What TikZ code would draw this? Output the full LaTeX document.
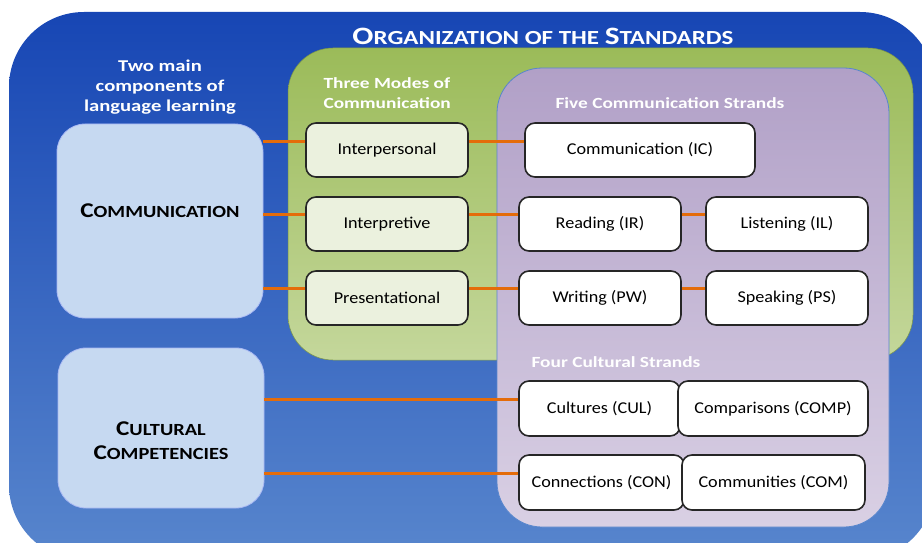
\documentclass[tikz,border=0pt]{standalone}
\usepackage{fontspec}
\setmainfont{Carlito}[FakeStretch=1.1]
\newfontfamily\headfont{Carlito}[FakeStretch=1.25]
\newfontfamily\partfont{Carlito}[FakeStretch=1.2]
\usetikzlibrary{positioning}

\definecolor{deepblue}{HTML}{1746B4}
\definecolor{paleblue}{HTML}{5886CD}
\definecolor{grasstop}{HTML}{9BBB59}
\definecolor{grassbot}{HTML}{C4D79B}
\definecolor{liltop}{HTML}{B1A0C7}
\definecolor{lilbot}{HTML}{D9D0E4}
\definecolor{skybox}{HTML}{C6D9F1}
\definecolor{modefill}{HTML}{EBF1DE}
\definecolor{linkorange}{HTML}{E46C0A}

% first letter bigger, rest smaller (small caps look)
\newcommand{\initcap}[1]{{\fontsize{21}{24}\selectfont #1}}
\newcommand{\titlecap}[1]{{\fontsize{25}{28}\selectfont #1}}

\tikzset{
  modebox/.style={draw=black!85, line width=1.6pt, rounded corners=10pt, fill=modefill,
    minimum width=162pt, minimum height=54pt, font=\fontsize{16.5}{20}\selectfont},
  strandbox/.style={modebox, fill=white},
  partbox/.style={rounded corners=28pt, fill=skybox, draw=skybox!85!blue, line width=0.8pt,
    minimum width=206pt},
  parttext/.style={align=center, font=\partfont\bfseries\fontsize{17}{24}\selectfont},
  link/.style={draw=linkorange, line width=3pt},
  header/.style={text=white, font=\headfont\bfseries\fontsize{15.5}{20}\selectfont, align=center}
}

\begin{document}
\begin{tikzpicture}[x=1pt, y=-1pt]
\clip (0,0) rectangle (922,543);
\useasboundingbox (0,0) rectangle (922,543);

% Set the background panels
\shade[top color=deepblue, bottom color=paleblue, rounded corners=75pt] (9,12) rectangle (935,560);
\shade[top color=grasstop, bottom color=grassbot, draw=grasstop!80!black, line width=0.5pt,
  rounded corners=45pt] (288,48) rectangle (913,360);
\shade[top color=liltop, bottom color=lilbot, draw=paleblue, line width=0.8pt,
  rounded corners=45pt] (497,68) rectangle (889,527);

% Headings
\node[header, font=\headfont\bfseries\fontsize{20}{24}\selectfont] (title) at (543,36)
  {\titlecap{O}RGANIZATION OF THE \titlecap{S}TANDARDS};
\node[header, font=\headfont\bfseries\fontsize{16.5}{20}\selectfont] (twomain) at (160,87)
  {Two main\\components of\\language learning};
\node[header, align=left, anchor=west] (threemodes) at (320,93) {Three Modes of\\Communication};
\node[header, anchor=west] (fivestrands) at (552,103) {Five Communication Strands};
\node[header, anchor=west] (fourstrands) at (528,362) {Four Cultural Strands};

% Two main components
\node[partbox, minimum height=194pt] (comm) at (160,221) {};
\node[parttext] (commtext) at ([yshift=10pt]comm.center) {\initcap{C}OMMUNICATION};
\node[partbox, minimum height=160pt] (cult) at (161,428) {};
\node[parttext] (culttext) at ([yshift=-13pt]cult.center) {\initcap{C}ULTURAL\\\initcap{C}OMPETENCIES};

% Three modes
\node[modebox] (interpers) at (387,150) {Interpersonal};
\node[modebox] (interpret) at (387,224) {Interpretive};
\node[modebox] (present) at (387,298) {Presentational};

% Five communication strands
\node[strandbox, minimum width=230pt] (ic) at (640,150) {Communication (IC)};
\node[strandbox] (ir) at (600,224) {Reading (IR)};
\node[strandbox] (il) at (787,224) {Listening (IL)};
\node[strandbox] (pw) at (600,298) {Writing (PW)};
\node[strandbox] (ps) at (787,298) {Speaking (PS)};

% Four cultural strands
\node[strandbox, minimum width=161pt, minimum height=55pt] (cul) at (599.5,408.5) {Cultures (CUL)};
\node[strandbox, minimum width=190pt, minimum height=55pt] (comp) at (773,408.5) {Comparisons (COMP)};
\node[strandbox, minimum width=165pt, minimum height=55pt] (con) at (601.5,482.5) {Connections (CON)};
\node[strandbox, minimum width=183pt, minimum height=55pt] (com) at (773.5,482.5) {Communities (COM)};

% Orange links
\draw[link] ([yshift=9pt]interpers.west -| comm.east) -- ([yshift=9pt]interpers.west);
\draw[link] ([yshift=10pt]interpret.west -| comm.east) -- ([yshift=10pt]interpret.west);
\draw[link] ([yshift=10pt]present.west -| comm.east) -- ([yshift=10pt]present.west);
\draw[link] ([yshift=9pt]interpers.east) -- ([yshift=9pt]interpers.east -| ic.west);
\draw[link] ([yshift=10pt]interpret.east) -- ([yshift=10pt]interpret.east -| ir.west);
\draw[link] ([yshift=10pt]present.east) -- ([yshift=10pt]present.east -| pw.west);
\draw[link] ([yshift=10pt]ir.east) -- ([yshift=10pt]il.west);
\draw[link] ([yshift=10pt]pw.east) -- ([yshift=10pt]ps.west);
\draw[link] ([yshift=9.5pt]cul.west -| cult.east) -- ([yshift=9.5pt]cul.west);
\draw[link] ([yshift=9.5pt]con.west -| cult.east) -- ([yshift=9.5pt]con.west);
\end{tikzpicture}
\end{document}
